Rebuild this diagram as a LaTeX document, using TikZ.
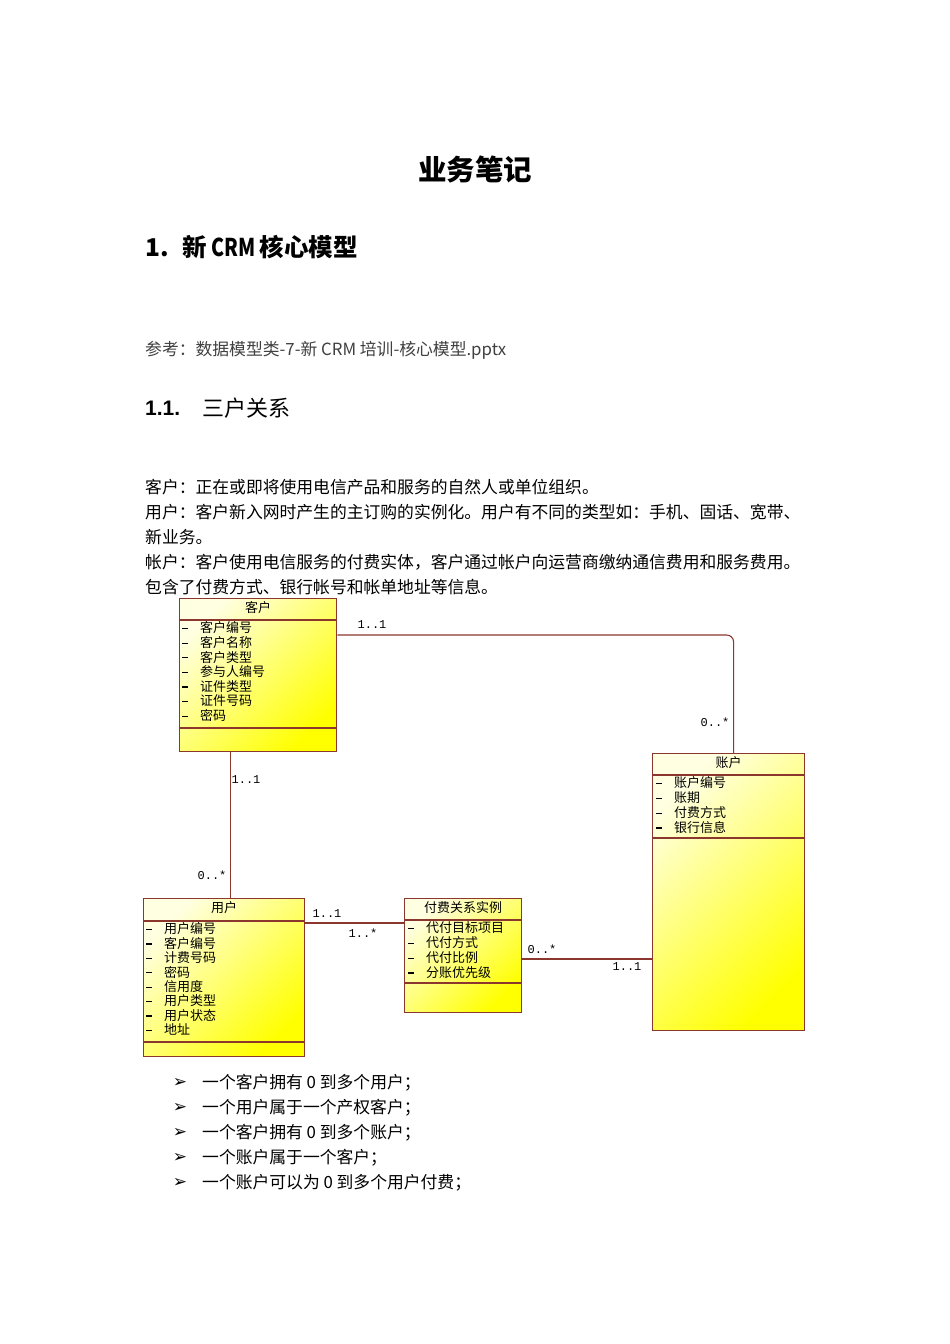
\documentclass[tikz,border=0pt]{standalone}
\usepackage{fontspec}
\setmainfont{Noto Sans CJK SC}
\newfontfamily\monofam{Liberation Mono}
\newfontfamily\symfam{DejaVu Sans}
\newfontfamily\latfam{Liberation Sans}

\definecolor{boxline}{RGB}{140,55,45}
\definecolor{paleyellow}{RGB}{255,255,225}

\newcommand{\attrdash}{\makebox[18pt][l]{\rule[3.8pt]{6pt}{1.1pt}}}

\begin{document}
\begin{tikzpicture}[x=1pt, y=-1pt,
    txt/.style={anchor=west, inner sep=0pt, font=\fontsize{16.8}{20}\selectfont},
    umlclass/.style={draw=boxline, line width=1.3pt, anchor=north west, inner sep=0pt,
        top color=paleyellow, bottom color=yellow, shading angle=45},
    clsname/.style={inner sep=0pt, font=\fontsize{13}{15}\selectfont},
    attr/.style={anchor=west, inner sep=0pt, font=\fontsize{13}{15}\selectfont},
    sect/.style={draw=boxline, line width=1.1pt},
    assoc/.style={draw=boxline, line width=1.1pt},
    mult/.style={inner sep=0pt, font=\monofam\fontsize{12}{13}\selectfont}
]
    \fill[white] (0,0) rectangle (950,1344);
    \useasboundingbox (0,0) rectangle (950,1344);

    % headings
    \node[font=\bfseries\fontsize{28.5}{32}\selectfont] (title) at (475,170) {业务笔记};
    \node[anchor=west, inner sep=0pt, font=\bfseries\fontsize{24.5}{28}\selectfont] (h1)
        at (145,247) {1.\hspace{14pt}新\,\scalebox{0.8}[1]{CRM}\,核心模型};
    \node[txt, text=black!75] (ref) at (145,350) {参考：数据模型类-7-新 CRM 培训-核心模型.pptx};
    \node[anchor=west, inner sep=0pt, font=\latfam\bfseries\fontsize{21}{24}\selectfont] (h2num)
        at (145,408) {1.1.};
    \node[anchor=west, inner sep=0pt, font=\fontsize{22}{25}\selectfont] (h2) at (202,408) {三户关系};

    % body text
    \node[txt] (p1) at (145,487) {客户：正在或即将使用电信产品和服务的自然人或单位组织。};
    \node[txt] (p2) at (145,512) {用户：客户新入网时产生的主订购的实例化。用户有不同的类型如：手机、固话、宽带、};
    \node[txt] (p3) at (145,537) {新业务。};
    \node[txt] (p4) at (145,562) {帐户：客户使用电信服务的付费实体，客户通过帐户向运营商缴纳通信费用和服务费用。};
    \node[txt] (p5) at (145,587) {包含了付费方式、银行帐号和帐单地址等信息。};

    % class 客户
    \node[umlclass, minimum width=157pt, minimum height=153pt] (kehu) at (179,598) {};
    \draw[sect] ([yshift=-22pt]kehu.north west) -- ([yshift=-22pt]kehu.north east);
    \draw[sect] ([yshift=-130pt]kehu.north west) -- ([yshift=-130pt]kehu.north east);
    \node[clsname] (kehuT) at ([yshift=-10pt]kehu.north) {客户};
    \foreach \a [count=\i] in {客户编号,客户名称,客户类型,参与人编号,证件类型,证件号码,密码}
        \node[attr] (kehuA\i) at (182,{628+14.6*(\i-1)}) {\attrdash\a};

    % class 账户
    \node[umlclass, minimum width=152pt, minimum height=277pt] (zhanghu) at (652,753) {};
    \draw[sect] ([yshift=-22pt]zhanghu.north west) -- ([yshift=-22pt]zhanghu.north east);
    \draw[sect] ([yshift=-85pt]zhanghu.north west) -- ([yshift=-85pt]zhanghu.north east);
    \node[clsname] (zhanghuT) at ([yshift=-10pt]zhanghu.north) {账户};
    \foreach \a [count=\i] in {账户编号,账期,付费方式,银行信息}
        \node[attr] (zhanghuA\i) at (656,{783+14.8*(\i-1)}) {\attrdash\a};

    % class 用户
    \node[umlclass, minimum width=161pt, minimum height=158pt] (yonghu) at (143,898) {};
    \draw[sect] ([yshift=-23pt]yonghu.north west) -- ([yshift=-23pt]yonghu.north east);
    \draw[sect] ([yshift=-144pt]yonghu.north west) -- ([yshift=-144pt]yonghu.north east);
    \node[clsname] (yonghuT) at ([yshift=-10pt]yonghu.north) {用户};
    \foreach \a [count=\i] in {用户编号,客户编号,计费号码,密码,信用度,用户类型,用户状态,地址}
        \node[attr] (yonghuA\i) at (146,{929+14.4*(\i-1)}) {\attrdash\a};

    % class 付费关系实例
    \node[umlclass, minimum width=117pt, minimum height=114pt] (fufei) at (404,898) {};
    \draw[sect] ([yshift=-22pt]fufei.north west) -- ([yshift=-22pt]fufei.north east);
    \draw[sect] ([yshift=-85pt]fufei.north west) -- ([yshift=-85pt]fufei.north east);
    \node[clsname] (fufeiT) at ([yshift=-10pt]fufei.north) {付费关系实例};
    \foreach \a [count=\i] in {代付目标项目,代付方式,代付比例,分账优先级}
        \node[attr] (fufeiA\i) at (408,{928+14.8*(\i-1)}) {\attrdash\a};

    % associations
    \draw[assoc, rounded corners=7pt] ([yshift=-37pt]kehu.north east) -| ([xshift=5pt]zhanghu.north);
    \draw[assoc] ([xshift=-27.5pt]kehu.south) -- ([xshift=6.5pt]yonghu.north);
    \draw[assoc] ([yshift=-25pt]yonghu.north east) -- ([yshift=-25pt]fufei.north west);
    \coordinate (ffout) at ([yshift=-61pt]fufei.north east);
    \draw[assoc] (ffout) -- (ffout -| zhanghu.west);

    % multiplicities
    \node[mult] (m1) at (372,625) {1..1};
    \node[mult] (m2) at (715,722) {0..*};
    \node[mult] (m3) at (246,780) {1..1};
    \node[mult] (m4) at (212,875) {0..*};
    \node[mult] (m5) at (327,914) {1..1};
    \node[mult] (m6) at (363,933) {1..*};
    \node[mult] (m7) at (542,949) {0..*};
    \node[mult] (m8) at (627,967) {1..1};

    % bullet list
    \foreach \t [count=\i] in {一个客户拥有 0 到多个用户；,一个用户属于一个产权客户；,一个客户拥有 0 到多个账户；,一个账户属于一个客户；,一个账户可以为 0 到多个用户付费；}
    {
        \node[inner sep=0pt, font=\symfam\bfseries\fontsize{17}{18}\selectfont] (bul\i) at (180,{1083+25*(\i-1)}) {➢};
        \node[txt] (item\i) at (202,{1083+25*(\i-1)}) {\t};
    }
\end{tikzpicture}
\end{document}
